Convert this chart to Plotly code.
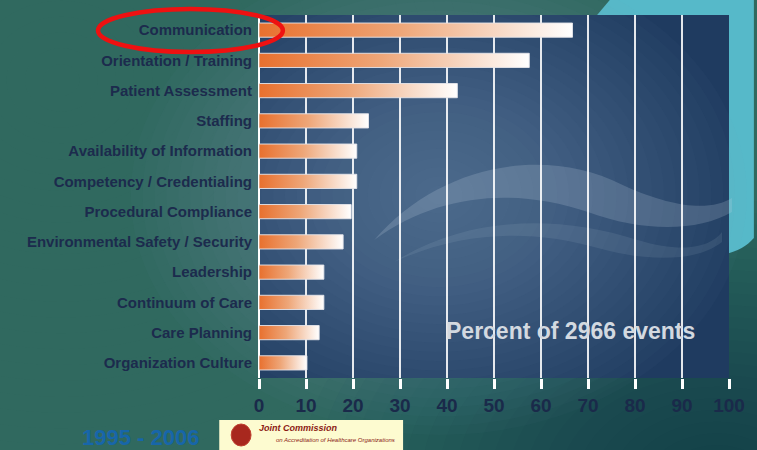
import plotly.graph_objects as go

categories = ["Communication", "Orientation / Training", "Patient Assessment", "Staffing",
              "Availability of Information", "Competency / Credentialing", "Procedural Compliance",
              "Environmental Safety / Security", "Leadership", "Continuum of Care",
              "Care Planning", "Organization Culture"]
percent = [66.7, 57.5, 42.2, 23.3, 20.8, 20.8, 19.6, 17.9, 13.8, 13.8, 12.8, 10.2]
x_ticks = [0, 10, 20, 30, 40, 50, 60, 70, 80, 90, 100]
annotation_text = "Percent of 2966 events"
years_text = "1995 - 2006"

W, H = 757, 450
L, R, T, B = 259, 25, 15, 72
PW, PH = W - L - R, H - T - B


def px(x):
    return (x - L) / PW


def py(y):
    return (H - B - y) / PH


def path_px(cmds):
    out = []
    for c in cmds:
        if isinstance(c, str):
            out.append(c)
        else:
            out.append(f"{px(c[0]):.4f},{py(c[1]):.4f}")
    return " ".join(out)


fig = go.Figure()

half = 0.235
for i, (cat, v) in enumerate(zip(categories, percent)):
    fig.add_trace(go.Scatter(
        x=[0, v, v, 0, 0], y=[i - half, i - half, i + half, i + half, i - half],
        mode="lines", fill="toself",
        fillgradient=dict(type="horizontal",
                          colorscale=[[0, "#e8702e"], [0.45, "#eea678"], [1, "#ffffff"]]),
        line=dict(color="rgba(230,230,235,0.9)", width=1),
        hoverinfo="skip", showlegend=False, name=cat,
    ))

shapes = []


def glow(cx, cy, rx, ry, n, rgb, op):
    for k in range(n):
        f = 1 - k / n
        shapes.append(dict(type="circle", xref="paper", yref="paper", layer="below",
                           x0=px(cx - rx * f), x1=px(cx + rx * f),
                           y0=py(cy + ry * f), y1=py(cy - ry * f),
                           fillcolor=f"rgba({rgb},{op})", line=dict(width=0)))


# background tints
glow(60, 80, 440, 380, 24, "75,145,132", 0.022)
glow(720, 480, 420, 280, 24, "18,50,55", 0.028)
# cyan corner
shapes.append(dict(type="path", xref="paper", yref="paper", layer="below",
                   path=path_px(["M", (612, 0), "L", (757, 0), "L", (757, 238), "C", (750, 246), (742, 251),
                                 (725, 255), "L", (595, 20), "Z"]),
                   fillcolor="#56b9c9", line=dict(width=0)))
# panel
shapes.append(dict(type="rect", xref="paper", yref="paper", layer="below",
                   x0=0, x1=1, y0=0, y1=1, fillcolor="#1f3b60", line=dict(width=0)))
glow(440, 195, 310, 240, 26, "140,170,192", 0.032)
# wave
shapes.append(dict(type="path", xref="paper", yref="paper", layer="below",
                   path=path_px(["M", (375, 240), "C", (440, 165), (545, 145), (625, 185),
                                 "C", (680, 210), (715, 210), (735, 198), "L", (735, 212),
                                 "C", (700, 232), (645, 232), (590, 212),
                                 "C", (520, 188), (440, 192), (375, 240), "Z"]),
                   fillcolor="rgba(200,215,228,0.20)", line=dict(width=0)))
shapes.append(dict(type="path", xref="paper", yref="paper", layer="below",
                   path=path_px(["M", (395, 262), "C", (470, 215), (560, 215), (640, 240),
                                 "C", (690, 255), (715, 245), (725, 232), "L", (725, 242),
                                 "C", (700, 262), (650, 262), (600, 248),
                                 "C", (530, 228), (460, 232), (395, 262), "Z"]),
                   fillcolor="rgba(200,215,228,0.10)", line=dict(width=0)))
# red ellipse around Communication
shapes.append(dict(type="circle", xref="paper", yref="paper", layer="above",
                   x0=px(97), x1=px(283), y0=py(52), y1=py(9),
                   line=dict(color="#ee1111", width=4.5), fillcolor="rgba(0,0,0,0)"))
# logo box
shapes.append(dict(type="rect", xref="paper", yref="paper", layer="above",
                   x0=px(219), x1=px(404), y0=py(455), y1=py(420),
                   fillcolor="#fdfbd0", line=dict(width=0)))
shapes.append(dict(type="circle", xref="paper", yref="paper", layer="above",
                   x0=px(231), x1=px(251), y0=py(446), y1=py(424),
                   fillcolor="#a8281e", line=dict(color="#c04030", width=1)))

annotations = [
    dict(text=annotation_text, xref="paper", yref="paper", x=px(572), y=py(331),
         xanchor="center", yanchor="middle", showarrow=False,
         font=dict(family="Liberation Sans", size=23, color="#d3d9e0", weight="bold")),
    dict(text=years_text, xref="paper", yref="paper", x=px(140), y=py(437),
         xanchor="center", yanchor="middle", showarrow=False,
         font=dict(family="Liberation Sans", size=22, color="#1766aa", weight="bold")),
    dict(text="<i><b>Joint Commission</b></i>", xref="paper", yref="paper", x=px(257), y=py(428),
         xanchor="left", yanchor="middle", showarrow=False,
         font=dict(family="Liberation Sans", size=9, color="#8c1a14")),
    dict(text="<i>on Accreditation of Healthcare Organizations</i>", xref="paper", yref="paper",
         x=px(274), y=py(440), xanchor="left", yanchor="middle", showarrow=False,
         font=dict(family="Liberation Sans", size=6, color="#8c1a14")),
]

fig.update_layout(
    width=W, height=H,
    margin=dict(l=L, r=R, t=T, b=B, pad=0),
    paper_bgcolor="#30695f",
    plot_bgcolor="#1f3b60",
    shapes=shapes, annotations=annotations,
    showlegend=False,
    xaxis=dict(range=[0, 100], tickvals=x_ticks, showgrid=True, gridcolor="rgba(255,255,255,0.88)",
               gridwidth=1.5, zeroline=True, zerolinecolor="white", zerolinewidth=2,
               ticks="outside", ticklen=10, tickwidth=3, tickcolor="white",
               tickfont=dict(family="Liberation Sans", size=19, color="#1a2a4a", weight="bold"),
               fixedrange=True, layer="above traces"),
    yaxis=dict(range=[11.5, -0.5], tickvals=list(range(len(categories))), ticktext=categories,
               showgrid=False, zeroline=False, ticks="", ticklabelstandoff=6,
               tickfont=dict(family="Liberation Sans", size=15, color="#1c2b4d", weight="bold"),
               fixedrange=True),
)

fig.write_html("out.html", config={"displayModeBar": False},
               post_script="document.body.style.margin='0';document.body.style.overflow='hidden';")
